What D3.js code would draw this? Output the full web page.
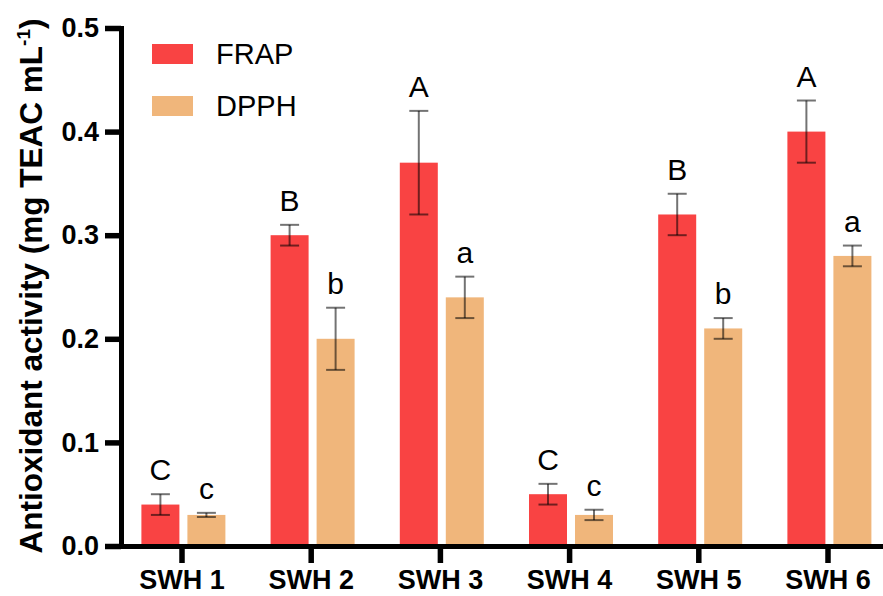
<!DOCTYPE html>
<html>
<head>
<meta charset="utf-8">
<script src="https://cdn.jsdelivr.net/npm/d3@7"></script>
<style>
  body { margin: 0; background: #fff; }
  svg { display: block; font-family: Arial, "Liberation Sans", sans-serif; }
</style>
</head>
<body>
<svg id="chart" width="883" height="596" viewBox="0 0 883 596"></svg>
<script>
// data
const samples = ["SWH 1", "SWH 2", "SWH 3", "SWH 4", "SWH 5", "SWH 6"];
const seriesNames = ["FRAP", "DPPH"];
const frapMean = [0.04, 0.30, 0.37, 0.05, 0.32, 0.40];
const frapErr = [0.01, 0.01, 0.05, 0.01, 0.02, 0.03];
const frapLetters = ["C", "B", "A", "C", "B", "A"];
const dpphMean = [0.03, 0.20, 0.24, 0.03, 0.21, 0.28];
const dpphErr = [0.002, 0.03, 0.02, 0.005, 0.01, 0.01];
const dpphLetters = ["c", "b", "a", "c", "b", "a"];
const yTicks = [0, 0.1, 0.2, 0.3, 0.4, 0.5];
const colors = { FRAP: "#f94343", DPPH: "#f0b67b" };

const svg = d3.select("#chart");

// build rows for drawing
const rows = [];
samples.forEach((s, i) => {
    rows.push({ sample: s, series: "FRAP", v: frapMean[i], e: frapErr[i], lab: frapLetters[i] });
    rows.push({ sample: s, series: "DPPH", v: dpphMean[i], e: dpphErr[i], lab: dpphLetters[i] });
});

const x0 = d3.scaleBand().domain(samples).range([117.4, 892.6]).padding(0);
const x1 = d3.scaleBand().domain(seriesNames).range([24, 108]).paddingInner(0.174);
const y = d3.scaleLinear().domain([0, 0.5]).range([546, 28]);

// bars
svg.append("g")
    .selectAll("rect")
    .data(rows)
    .enter()
    .append("rect")
    .attr("x", d => x0(d.sample) + x1(d.series))
    .attr("y", d => y(d.v))
    .attr("width", x1.bandwidth())
    .attr("height", d => y(0) - y(d.v))
    .attr("fill", d => colors[d.series]);

// error bars
const eb = svg.append("g")
    .attr("stroke", "#000")
    .attr("stroke-opacity", 0.55)
    .attr("stroke-width", 2);
rows.forEach(d => {
    const cx = x0(d.sample) + x1(d.series) + x1.bandwidth() / 2;
    const top = y(d.v + d.e), bot = y(d.v - d.e);
    eb.append("line").attr("x1", cx).attr("x2", cx).attr("y1", top).attr("y2", bot);
    eb.append("line").attr("x1", cx - 9.5).attr("x2", cx + 9.5).attr("y1", top).attr("y2", top);
    eb.append("line").attr("x1", cx - 9.5).attr("x2", cx + 9.5).attr("y1", bot).attr("y2", bot);
});

// significance letters
svg.append("g")
    .selectAll("text")
    .data(rows)
    .enter()
    .append("text")
    .attr("x", d => x0(d.sample) + x1(d.series) + x1.bandwidth() / 2)
    .attr("y", d => y(d.v + d.e) - 14)
    .attr("text-anchor", "middle")
    .attr("font-size", 30)
    .attr("fill", "#000")
    .text(d => d.lab);

// y axis
const yAxis = svg.append("g")
    .attr("transform", "translate(121,0)")
    .call(d3.axisLeft(y).tickValues(yTicks).tickFormat(d3.format(".1f"))
        .tickSize(16).tickSizeOuter(0).tickPadding(6));
yAxis.select(".domain").attr("stroke-width", 5).attr("stroke-linecap", "square");
yAxis.selectAll(".tick line").attr("stroke-width", 5.5);
yAxis.selectAll(".tick text")
    .attr("font-size", 27).attr("font-weight", "bold")
    .attr("font-family", "Arial, 'Liberation Sans', sans-serif")
    .attr("fill", "#000");

// x axis
const xAxis = svg.append("g")
    .attr("transform", "translate(0,546)")
    .call(d3.axisBottom(x0).tickSize(17).tickSizeOuter(0).tickPadding(7));
xAxis.select(".domain").attr("stroke-width", 5);
xAxis.selectAll(".tick line").attr("stroke-width", 5.5);
xAxis.selectAll(".tick text")
    .attr("font-size", 27).attr("font-weight", "bold")
    .attr("font-family", "Arial, 'Liberation Sans', sans-serif")
    .attr("fill", "#000");

// y axis title
const title = svg.append("text")
    .attr("transform", "translate(42,286) rotate(-90)")
    .attr("text-anchor", "middle")
    .attr("font-size", 31.5)
    .attr("font-weight", "bold");
title.append("tspan").text("Antioxidant activity (mg TEAC mL");
title.append("tspan").attr("font-size", 19).attr("dy", -12).text("-1");
title.append("tspan").attr("dy", 12).text(")");

// legend
const legend = svg.append("g");
seriesNames.forEach((s, i) => {
    const ly = 44 + i * 52;
    legend.append("rect").attr("x", 152).attr("y", ly).attr("width", 41).attr("height", 20)
        .attr("fill", colors[s]);
    legend.append("text").attr("x", 216).attr("y", ly + 20).attr("font-size", 29)
        .attr("fill", "#000").text(s);
});
</script>
</body>
</html>
